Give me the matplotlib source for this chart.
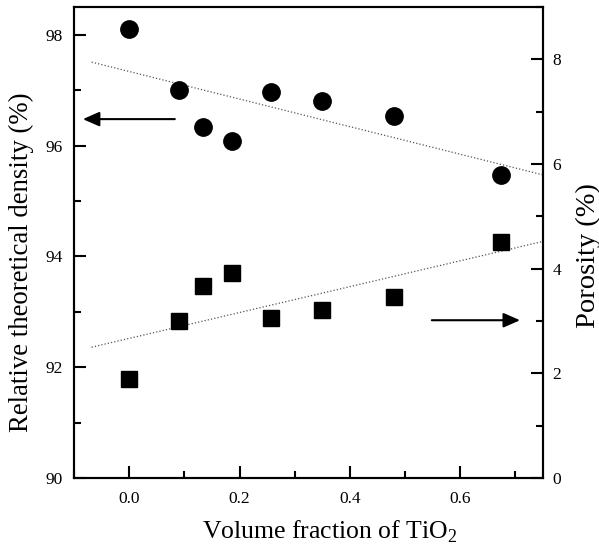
import numpy as np
import matplotlib
matplotlib.use("Agg")
import matplotlib.pyplot as plt
from matplotlib.ticker import MultipleLocator

plt.rcParams['font.family'] = ['Liberation Serif', 'DejaVu Serif']
plt.rcParams['mathtext.fontset'] = 'custom'
plt.rcParams['mathtext.rm'] = 'Liberation Serif'

# data
tio2_frac = [0.0, 0.09, 0.134, 0.187, 0.257, 0.349, 0.480, 0.674]
rel_density = [98.10, 97.00, 96.34, 96.08, 96.96, 96.80, 96.54, 95.47]
porosity = [1.89, 3.00, 3.67, 3.92, 3.05, 3.21, 3.46, 4.51]
fit_x = [-0.068, 0.75]

fig = plt.figure(figsize=(5.99, 5.57), dpi=100)
ax = fig.add_axes([0.1235, 0.1418, 0.783, 0.8456])
ax2 = ax.twinx()

ax.plot(tio2_frac, rel_density, 'o', color='black', markersize=12.5, zorder=3)
ax2.plot(tio2_frac, porosity, 's', color='black', markersize=11, zorder=3)

# linear fits
fx = np.array(fit_x)
p1 = np.polyfit(tio2_frac, rel_density, 1)
p2 = np.polyfit(tio2_frac, porosity, 1)
ax.plot(fx, np.polyval(p1, fx), ':', color='#555555', lw=0.9)
ax2.plot(fx, np.polyval(p2, fx), ':', color='#555555', lw=0.9)

ax.set_xlim(-0.1, 0.75)
ax.set_ylim(90, 98.5)
ax2.set_ylim(0, 9)

ax.xaxis.set_major_locator(MultipleLocator(0.2))
ax.xaxis.set_minor_locator(MultipleLocator(0.1))
ax.yaxis.set_major_locator(MultipleLocator(2))
ax.yaxis.set_minor_locator(MultipleLocator(1))
ax2.yaxis.set_major_locator(MultipleLocator(2))
ax2.yaxis.set_minor_locator(MultipleLocator(1))
ax.xaxis.set_major_formatter(matplotlib.ticker.FormatStrFormatter('%.1f'))

for a in (ax, ax2):
    a.tick_params(which='major', direction='in', length=8.5, width=1.5, labelsize=12.5, pad=7)
    a.tick_params(which='minor', direction='in', length=5, width=1.5)
    for s in a.spines.values():
        s.set_linewidth(1.5)
ax.tick_params(axis='y', pad=8)
ax.tick_params(axis='x', pad=9)
ax.tick_params(which='both', top=False, right=False)

ax.set_xlabel(r'Volume fraction of TiO$_2$', fontsize=18.5)
ax.set_ylabel('Relative theoretical density (%)', fontsize=19.3)
ax2.set_ylabel('Porosity (%)', fontsize=20.5)
ax.xaxis.set_label_coords(0.546, -0.085)
ax.yaxis.set_label_coords(-0.085, 0.4575)
ax2.yaxis.set_label_coords(1.069, 0.473)

arrow = dict(arrowstyle='-|>,head_length=0.5,head_width=0.22', color='black',
             lw=1.5, mutation_scale=20, shrinkA=0, shrinkB=0)
ax.annotate('', xy=(0.019, 0.762), xytext=(0.215, 0.762),
            xycoords='axes fraction', arrowprops=arrow)
ax.annotate('', xy=(0.951, 0.335), xytext=(0.763, 0.335),
            xycoords='axes fraction', arrowprops=arrow)

fig.savefig('out.png', dpi=100)
